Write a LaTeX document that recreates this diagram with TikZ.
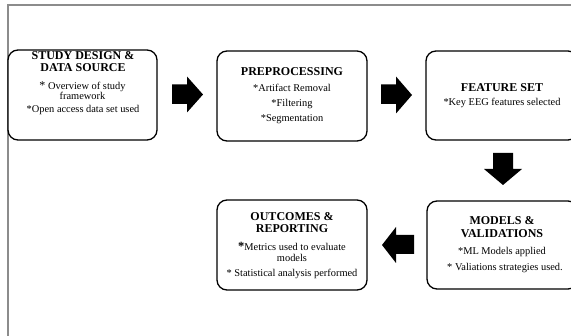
\documentclass[tikz,border=0pt]{standalone}
\usepackage{fontspec}
\setmainfont{Liberation Serif}
\tikzset{
  stagebox/.style={draw=black, line width=1.3pt, rounded corners=10pt, fill=white, inner sep=0pt},
  ttl/.style={anchor=base, inner sep=0pt, font=\fontsize{12}{14}\selectfont\bfseries},
  bdy/.style={anchor=base, inner sep=0pt, font=\fontsize{10.4}{12}\selectfont},
  blockarrow/.style={fill=black, draw=none},
  frameline/.style={draw=black!45, line width=1.5pt}
}
\begin{document}
\begin{tikzpicture}[x=1pt,y=-1pt]
\useasboundingbox (0,0) rectangle (571,336);
\clip (0,0) rectangle (571,336);
\fill[white] (0,0) rectangle (571,336);
% outer frame
\coordinate (fl) at (8,336);
\coordinate (fc) at (8,5);
\coordinate (fr) at (575,5);
\draw[frameline] (fl) -- (fc) -- (fr);
% boxes
\node[stagebox, minimum width=149pt, minimum height=90pt] (b1) at (82.5,95) {};
\node[stagebox, minimum width=150pt, minimum height=90pt] (b2) at (292,96) {};
\node[stagebox, minimum width=152pt, minimum height=89pt] (b3) at (502,95.5) {};
\node[stagebox, minimum width=151pt, minimum height=88pt] (b4) at (502.5,245) {};
\node[stagebox, minimum width=150pt, minimum height=90pt] (b5) at (292,245) {};
% texts box 1
\node[ttl] (t1a) at (83,59.5) {STUDY DESIGN \&};
\node[ttl] (t1b) at (83,71.8) {DATA SOURCE};
\node[bdy] (t1c) at (82.5,89.3) {{\fontsize{12}{14}\selectfont *} Overview of study};
\node[bdy] (t1d) at (82.5,100) {framework};
\node[bdy] (t1e) at (83,113) {*Open access data set used};
% texts box 2
\node[ttl] (t2a) at (292,76) {PREPROCESSING};
\node[bdy] (t2b) at (292,92) {*Artifact Removal};
\node[bdy] (t2c) at (292,106.7) {*Filtering};
\node[bdy] (t2d) at (292,121.7) {*Segmentation};
% texts box 3
\node[ttl] (t3a) at (502,91.7) {FEATURE SET};
\node[bdy] (t3b) at (502,106) {*Key EEG features selected};
% texts box 4
\node[ttl] (t4a) at (502,225) {MODELS \&};
\node[ttl] (t4b) at (502,237.3) {VALIDATIONS};
\node[bdy] (t4c) at (502,254.3) {*ML Models applied};
\node[bdy] (t4d) at (505,271) {* Valiations strategies used.};
% texts box 5
\node[ttl] (t5a) at (292,220.7) {OUTCOMES \&};
\node[ttl] (t5b) at (292,232.3) {REPORTING};
\node[bdy] (t5c) at (292,251) {{\fontsize{12.5}{14}\selectfont\bfseries *}Metrics used to evaluate};
\node[bdy] (t5d) at (292,262) {models};
\node[bdy] (t5e) at (292,276.7) {* Statistical analysis performed};
% block arrows
\fill[blockarrow] (172,84.5) -- (187,84.5) -- (187,76.5) -- (203,94.5) -- (187,112.5) -- (187,104) -- (172,104) -- cycle;
\fill[blockarrow] (381,84.5) -- (396,84.5) -- (396,76.5) -- (412,95) -- (396,113.5) -- (396,104) -- (381,104) -- cycle;
\fill[blockarrow] (493,153) -- (513,153) -- (513,169) -- (522,169) -- (503,185) -- (484,169) -- (493,169) -- cycle;
\fill[blockarrow] (414,235) -- (414,254) -- (396,254) -- (396,263) -- (382,245) -- (396,227) -- (396,235) -- cycle;
\end{tikzpicture}
\end{document}
